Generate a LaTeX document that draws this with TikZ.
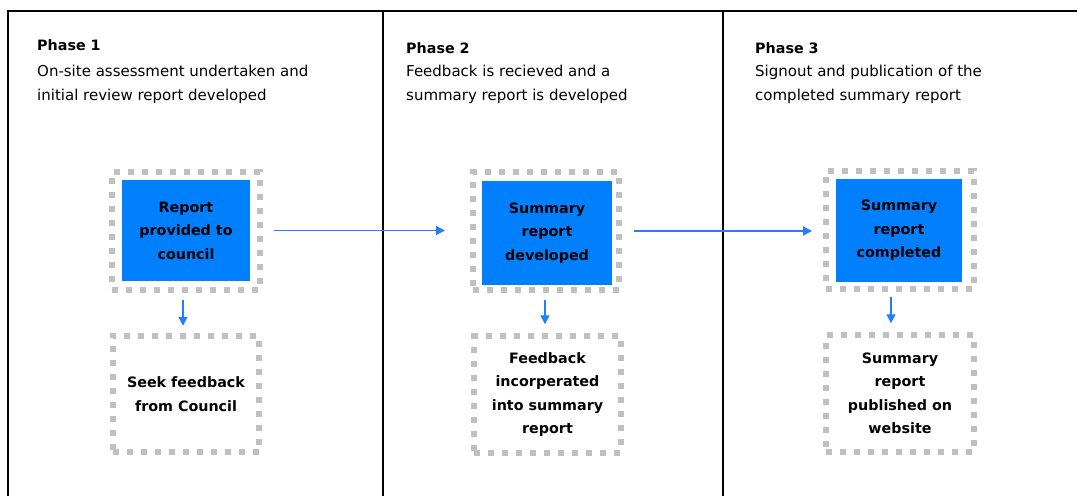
\documentclass[tikz,border=0pt]{standalone}
\usepackage{fontspec}
\setmainfont{DejaVu Sans}
\usetikzlibrary{arrows.meta}
\definecolor{boxblue}{HTML}{0080FF}
\definecolor{arrblue}{HTML}{1F7FFF}
\definecolor{dotgray}{HTML}{C0C0C0}
\tikzset{
  frameline/.style={line width=2pt, black},
  dotbox/.style={draw=dotgray, line width=6pt, dash pattern=on 6pt off 8pt,
    minimum width=#1, minimum height=118pt, inner sep=0pt},
  lowbox/.style={draw=dotgray, line width=6pt, dash pattern=on 6pt off 8pt,
    minimum width=146.5pt, minimum height=116.5pt, inner sep=0pt, align=center,
    font=\bfseries\fontsize{14.3}{23.5}\selectfont},
  bluebox/.style={fill=boxblue, draw=none, minimum width=128pt, minimum height=101pt,
    inner sep=0pt, align=center, font=\bfseries\fontsize{14.3}{23.5}\selectfont},
  arr/.style={draw=arrblue, line width=1.3pt, -{Triangle[width=9pt,length=9pt]}},
  ttl/.style={anchor=base west, inner sep=0pt, font=\bfseries\fontsize{14.3}{17}\selectfont},
  dsc/.style={anchor=base west, inner sep=0pt, font=\fontsize{15}{17}\selectfont}
}
\begin{document}
\begin{tikzpicture}[x=1pt,y=-1pt]
\useasboundingbox (0,0) rectangle (1077,496);
% frame
\draw[frameline] (8,496) -- (8,11) -- (1077,11);
\draw[frameline] (382.5,11) -- (382.5,496);
\draw[frameline] (723,11) -- (723,496);
% headings
\node[ttl] (t1) at (37,50) {Phase 1};
\node[dsc] (d1a) at (37,76) {On-site assessment undertaken and};
\node[dsc] (d1b) at (37,100) {initial review report developed};
\node[ttl] (t2) at (406,53) {Phase 2};
\node[dsc] (d2a) at (406,76) {Feedback is recieved and a};
\node[dsc] (d2b) at (406,100) {summary report is developed};
\node[ttl] (t3) at (755,53) {Phase 3};
\node[dsc] (d3a) at (755,76) {Signout and publication of the};
\node[dsc] (d3b) at (755,100) {completed summary report};
% phase 1
\node[dotbox=148pt] (o1) at (186,230.5) {};
\node[bluebox] (b1) at (186,230.5) {Report\\provided to\\council};
\node[lowbox] (l1) at (186,394) {Seek feedback\\from Council};
% phase 2
\node[dotbox=146pt] (o2) at (546,231) {};
\node[bluebox, minimum width=130pt, minimum height=104pt] (b2) at (547,233) {Summary\\report\\developed};
\node[lowbox] (l2) at (547.5,394.5) {Feedback\\incorperated\\into summary\\report};
% phase 3
\node[dotbox=148pt] (o3) at (900,230) {};
\node[bluebox, minimum width=126pt, minimum height=103pt] (b3) at (899,230.5) {Summary\\report\\completed};
\node[lowbox, minimum width=148pt] (l3) at (900,393.5) {Summary\\report\\published on\\website};
% connectors
\draw[arr] ([xshift=11pt]o1.east) -- ([xshift=-25pt]o2.west |- o1.east);
\draw[arr] ([xshift=12pt]o2.east) -- ([xshift=-11pt]o3.west |- o2.east);
\draw[arr] ([xshift=-3pt,yshift=-7pt]o1.south) -- ([xshift=-3pt,yshift=7pt]l1.north);
\draw[arr] ([xshift=-1pt,yshift=-7pt]o2.south) -- ([xshift=-2.5pt,yshift=9pt]l2.north);
\draw[arr] ([xshift=-9pt,yshift=-5pt]o3.south) -- ([xshift=-9pt,yshift=9pt]l3.north);
\end{tikzpicture}
\end{document}
